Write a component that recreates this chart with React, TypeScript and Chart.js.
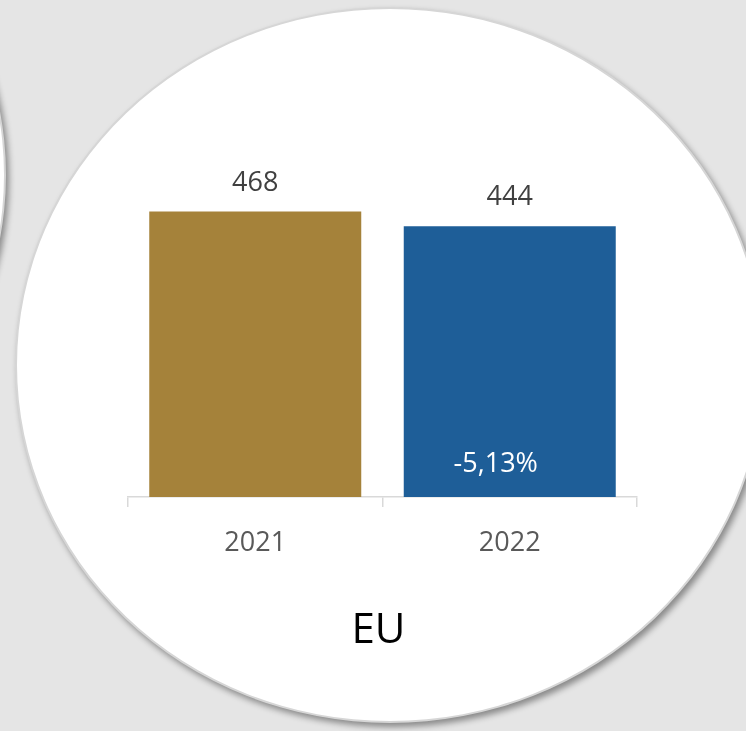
import React, { useEffect, useRef } from "react";
import { Chart, registerables } from "chart.js";

Chart.register(...registerables);

const categories = ["2021", "2022"];
const values = [468, 444];
const barColors = ["#A5823A", "#1E5E98"];
const regionLabel = "EU";

export default function App() {
  const ref = useRef<HTMLCanvasElement>(null);

  useEffect(() => {
    document.body.style.margin = "0";
    if (!ref.current) return;

    const labelsPlugin = {
      id: "barLabels",
      afterDatasetsDraw(chart: any) {
        const ctx = chart.ctx;
        const meta = chart.getDatasetMeta(0);
        ctx.save();
        ctx.font = '27px "Open Sans"';
        ctx.textAlign = "center";
        ctx.textBaseline = "alphabetic";
        ctx.fillStyle = "#404040";
        meta.data.forEach((bar: any, i: number) => {
          ctx.fillText(String(values[i]), bar.x, bar.y - 21);
        });
        const change = ((values[1] - values[0]) / values[0]) * 100;
        const text = change.toFixed(2).replace(".", ",") + "%";
        const last = meta.data[1];
        ctx.fillStyle = "#ffffff";
        ctx.fillText(text, last.x - 14, last.base - 25);
        ctx.fillStyle = "#000000";
        ctx.font = '42px "Open Sans"';
        const cx = (chart.chartArea.left + chart.chartArea.right) / 2 - 4;
        ctx.fillText(regionLabel, cx, 643);
        ctx.restore();
      },
    };

    const chart = new Chart(ref.current, {
      type: "bar",
      data: {
        labels: categories,
        datasets: [
          {
            data: values,
            backgroundColor: barColors,
            borderWidth: 0,
            categoryPercentage: 1,
            barPercentage: 0.833,
          },
        ],
      },
      options: {
        responsive: false,
        animation: false,
        layout: { padding: { left: 128, right: 109, top: 192, bottom: 170 } },
        plugins: {
          legend: { display: false },
          tooltip: { enabled: false },
          title: { display: false },
        },
        scales: {
          x: {
            grid: {
              display: true,
              offset: true,
              drawOnChartArea: false,
              drawTicks: true,
              tickLength: 10,
              color: "#d9d9d9",
              lineWidth: 1.5,
            },
            border: { display: true, color: "#d9d9d9", width: 1.5 },
            ticks: {
              color: "#595959",
              font: { family: "Open Sans", size: 27 },
              padding: 20,
            },
            afterFit: (s: any) => {
              s.height = 64;
            },
          },
          y: { display: false, min: 0, max: 500 },
        },
      },
      plugins: [labelsPlugin],
    });

    return () => chart.destroy();
  }, []);

  const circleBase: React.CSSProperties = {
    position: "absolute",
    width: 750,
    height: 716,
    borderRadius: "50%",
    background: "#ffffff",
    border: "2px solid #d6d6d6",
    boxSizing: "border-box",
    boxShadow: "3px 4px 6px rgba(0,0,0,0.4)",
  };

  return (
    <div
      style={{
        position: "fixed",
        left: 0,
        top: 0,
        width: 746,
        height: 731,
        overflow: "hidden",
        background: "#e5e5e5",
      }}
    >
      <div style={{ ...circleBase, left: -744, top: -183 }} />
      <div style={{ ...circleBase, left: 15, top: 7 }} />
      <canvas
        ref={ref}
        width={746}
        height={731}
        style={{ position: "absolute", left: 0, top: 0, width: 746, height: 731 }}
      />
    </div>
  );
}
